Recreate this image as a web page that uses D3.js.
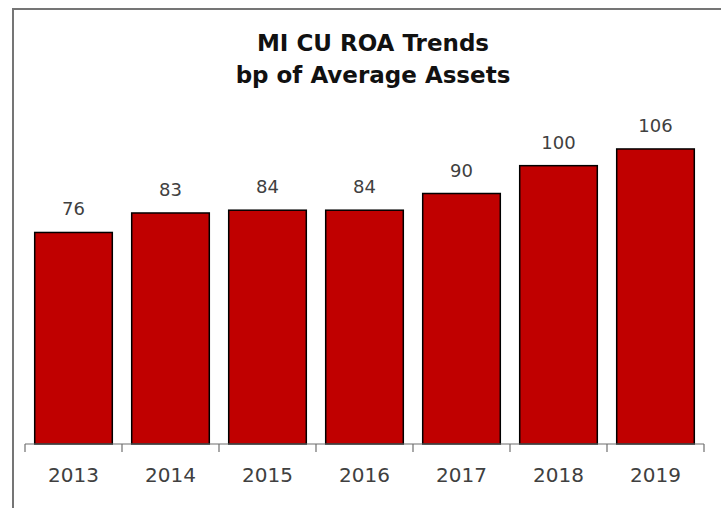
<!DOCTYPE html>
<html>
<head>
<meta charset="utf-8">
<script src="https://cdn.jsdelivr.net/npm/d3@7/dist/d3.min.js"></script>
<style>
  html, body { margin: 0; padding: 0; background: #fff; }
  svg { display: block; }
</style>
</head>
<body>
<svg id="chart" width="721" height="508"></svg>
<script>
// Return on assets for Michigan credit unions, in basis points
const years = ["2013", "2014", "2015", "2016", "2017", "2018", "2019"];
const roaBp = [76, 83, 84, 84, 90, 100, 106];
const titleLines = ["MI CU ROA Trends", "bp of Average Assets"];

const svg = d3.select("#chart");
const fontFamily = "'DejaVu Sans', sans-serif";

// Chart frame (only the top and left edges fall inside the view)
svg.append("rect")
  .attr("x", 13).attr("y", 9)
  .attr("width", 760).attr("height", 560)
  .attr("fill", "#fff")
  .attr("stroke", "#757575")
  .attr("stroke-width", 2);

// Title
svg.append("g")
  .selectAll("text")
  .data(titleLines)
  .join("text")
  .attr("x", 373)
  .attr("y", (d, i) => 51 + i * 32)
  .attr("text-anchor", "middle")
  .attr("font-family", fontFamily)
  .attr("font-weight", "bold")
  .attr("font-size", 23)
  .attr("fill", "#111")
  .text(d => d);

const x = d3.scaleBand()
  .domain(years)
  .range([25, 704])
  .paddingInner(0.2)
  .paddingOuter(0.1);

const y = d3.scaleLinear()
  .domain([0, 120])
  .range([444, 110]);

const data = years.map((yr, i) => ({ year: yr, value: roaBp[i] }));

// Bars
svg.append("g")
  .selectAll("rect")
  .data(data)
  .join("rect")
  .attr("x", d => x(d.year))
  .attr("y", d => y(d.value))
  .attr("width", x.bandwidth())
  .attr("height", d => y(0) - y(d.value))
  .attr("fill", "#c00000")
  .attr("stroke", "#000")
  .attr("stroke-width", 1.5);

// Value labels above the bars
svg.append("g")
  .selectAll("text")
  .data(data)
  .join("text")
  .attr("x", d => x(d.year) + x.bandwidth() / 2)
  .attr("y", d => y(d.value) - 17)
  .attr("text-anchor", "middle")
  .attr("font-family", fontFamily)
  .attr("font-size", 18)
  .attr("fill", "#404040")
  .text(d => d.value);

// Category axis: baseline with tick marks between the bars
const axis = svg.append("g").attr("stroke", "#6f6f6f").attr("stroke-width", 1.2);
const [r0, r1] = x.range();
axis.append("line")
  .attr("x1", r0).attr("x2", r1)
  .attr("y1", y(0)).attr("y2", y(0));
const boundaries = years.map(yr => x(yr) - x.step() * x.paddingInner() / 2);
boundaries[0] = r0;
boundaries.push(r1);
axis.selectAll("line.tick")
  .data(boundaries)
  .join("line")
  .attr("class", "tick")
  .attr("x1", d => d).attr("x2", d => d)
  .attr("y1", y(0)).attr("y2", y(0) + 8);

svg.append("g")
  .selectAll("text")
  .data(years)
  .join("text")
  .attr("x", d => x(d) + x.bandwidth() / 2)
  .attr("y", 482)
  .attr("text-anchor", "middle")
  .attr("font-family", fontFamily)
  .attr("font-size", 20)
  .attr("fill", "#404040")
  .text(d => d);
</script>
</body>
</html>
